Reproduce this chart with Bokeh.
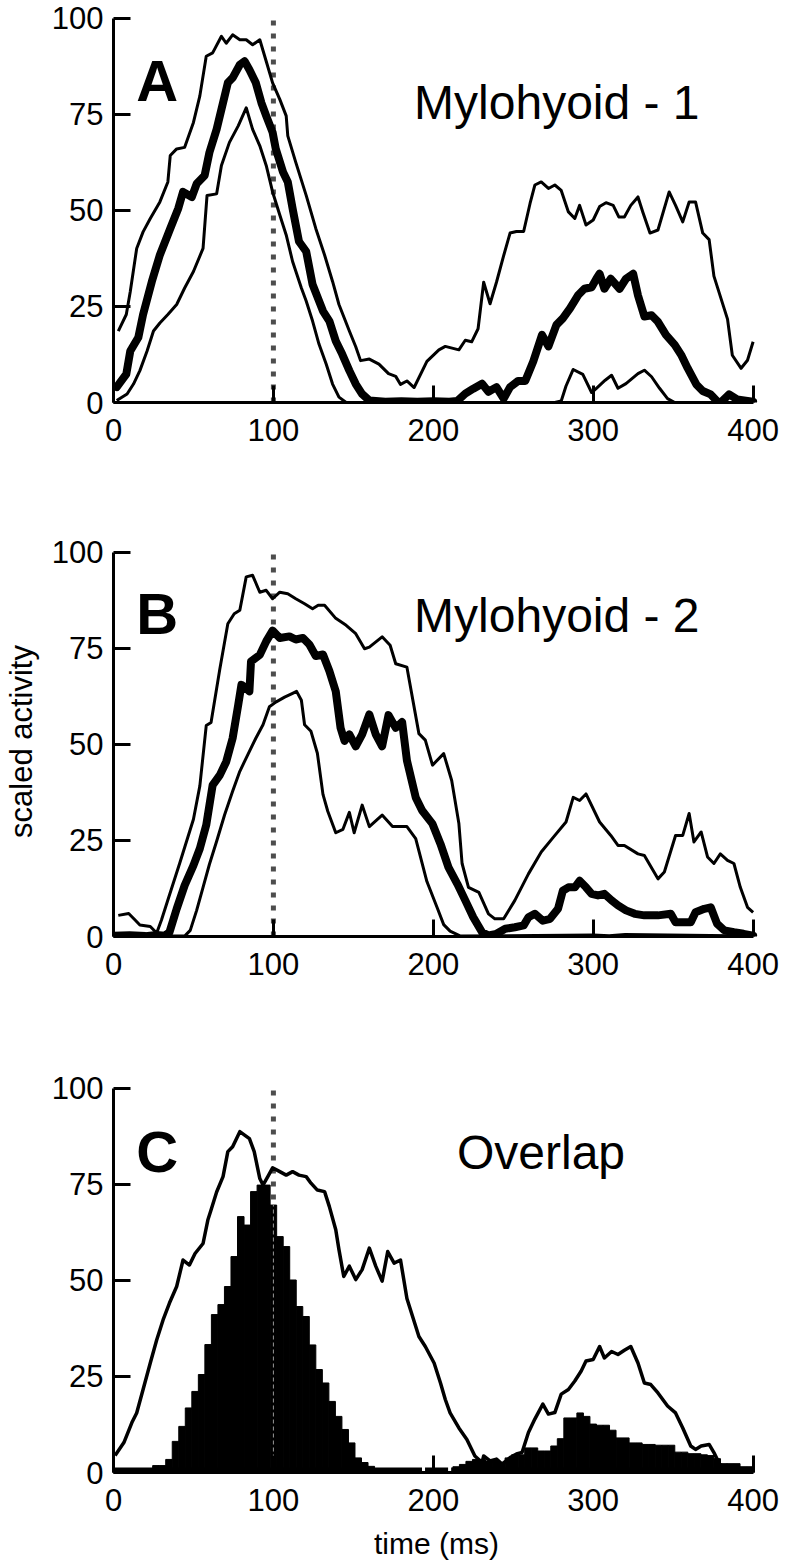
import math
from bokeh.plotting import figure
from bokeh.layouts import column
from bokeh.models import FixedTicker, Label, Range1d
from bokeh.embed import file_html
from bokeh.resources import INLINE

# ---------------- data (time in ms, scaled activity) ----------------
X_TICKS = [0, 100, 200, 300, 400]
Y_TICKS = [0, 25, 50, 75, 100]
MARKER_MS = 100        # dotted reference time
MARKER_TOP = 100.5

# Panel A : Mylohyoid - 1  (upper envelope, mean, lower envelope)
a_upper = [(3, 18.6), (8, 22.9), (10.5, 28.9), (14.5, 40.1), (18.5, 44.4), (23, 47.9), (29, 52.2), (34, 57.4),
           (35.5, 64.3), (39.5, 66), (44.5, 66.4), (50, 72.9), (54, 79.8), (58, 90.1), (62, 91), (67.5, 95.3),
           (70.5, 93.5), (74.5, 95.7), (79, 94.4), (83, 94.4), (87, 93.1), (91.5, 94.4), (95.5, 88.8), (99.5, 83.2),
           (104, 78.9), (108, 74.6), (109, 69.4), (114, 62.5), (120.5, 53.9), (126.5, 45.3), (132, 38.4), (137, 31.5),
           (141, 25.5), (147.5, 18.6), (151.5, 14.5), (154.5, 10.9), (160, 11.3), (166, 10), (172, 7.5), (176.5, 6.8),
           (179.5, 4.7), (183.5, 5.6), (188, 3.9), (196, 10.7), (203.5, 13.7), (207.5, 14.6), (216, 13.7), (220, 16.2),
           (224, 15.8), (228, 19.2), (231.5, 31.3), (235.5, 25.7), (239.5, 31.3), (244, 38.2), (248, 44.1), (252, 44.5),
           (256.5, 44.5), (260.5, 51.8), (263.5, 56.6), (267.5, 57.4), (272, 55.7), (276, 56.6), (280, 55.2),
           (284.5, 49.6), (288.5, 47.9), (291.5, 51.3), (295.5, 46.2), (300, 47.5), (304, 51), (308, 52), (312.5, 51.3),
           (316, 48.3), (319.5, 48.3), (323.5, 51.3), (328, 53.5), (331, 49.6), (335.5, 44.1), (340.5, 44.9),
           (347.5, 54.8), (351.5, 51.3), (356, 47), (360, 52.2), (364, 52.2), (368.5, 44.1), (372.5, 42.4),
           (375.5, 32.9), (384, 21.7), (387, 12.3), (392.5, 8.9), (396.5, 11), (400, 15.8)]
a_mean = [(2, 4), (8, 7.4), (10.5, 13.4), (15.5, 16.9), (18.5, 22.9), (24, 31.5), (29, 38.4), (35.5, 45.3),
          (40.5, 50.5), (43.5, 54.8), (49, 53.5), (52, 56.9), (57, 59.1), (60, 65.1), (64.5, 71.1), (68.5, 78),
          (71.5, 83.2), (74.5, 84.5), (79, 87.9), (82, 88.8), (85, 86.6), (89, 83.2), (92.5, 78), (95.5, 74.6),
          (99.5, 70.3), (101.5, 66), (106, 60), (109, 57.4), (112, 50.5), (116, 41.9), (120.5, 39.3), (124.5, 30.7),
          (131, 23.8), (135, 21.2), (139, 16), (143, 12.6), (147.5, 8.3), (151.5, 4.8), (155.5, 2.2), (160, 0.5),
          (170, 0.2), (180, 0.3), (190, 0.2), (200, 0.3), (210, 0.2), (215, 0.4), (220, 2.3), (225, 3.6),
          (230.5, 4.9), (234.5, 2.8), (239.5, 4), (244, 1), (248, 4), (253, 5.6), (257.5, 5.6), (262.5, 10.7),
          (268, 17.6), (272, 14.6), (277, 20.2), (281, 21.9), (285.5, 24.5), (290.5, 27.9), (294.5, 29.6), (299, 30),
          (302, 32.2), (304, 33.5), (307, 29.6), (311, 32.2), (316.5, 29.6), (320.5, 32.2), (325, 33.5), (328, 27.9),
          (332, 22.4), (336.5, 22.7), (340.5, 21), (345.5, 17.6), (351, 15), (355, 12.4), (359, 9), (364.5, 4.7),
          (368.5, 3), (373.5, 2.1), (379, -0.3), (385, 2.1), (390, 0.8), (396.5, 0.4), (400, 0.2)]
a_lower = [(2, 0.5), (8.5, 2.2), (12.5, 4.8), (16.5, 8.3), (21, 13.4), (25, 18.6), (29, 20.7), (34, 22.9),
           (39.5, 25.5), (44.5, 29.8), (50, 34.1), (56, 40.1), (58.5, 53.9), (64.5, 54.3), (67.5, 61.7), (72.5, 67.7),
           (78, 72), (83, 76.7), (87, 71.1), (91.5, 66.8), (95.5, 61.7), (99.5, 54.8), (104, 48.8), (108, 43.6),
           (112, 36.7), (117.5, 29.8), (120.5, 26.4), (124.5, 21.2), (128.5, 15.2), (133, 10), (137, 4.8), (141, 1.4),
           (145.5, 0), (200, 0), (250, 0), (276, 0), (280, 0.4), (283, 4.3), (287.5, 8.6), (293.5, 7.3), (299, 2.6),
           (302, 3.7), (307.5, 5.8), (311.5, 7.1), (315.5, 3.7), (320.5, 4.9), (328, 7.5), (332, 8.4), (336.5, 6.7),
           (341.5, 3.7), (346.5, 1), (351, 0), (400, 0)]

# Panel B : Mylohyoid - 2
b_upper = [(3, 5.5), (9.5, 6), (13.5, 4.3), (16.5, 3), (23, 2.6), (27, 0.9), (30, 4.3), (34, 9.5), (41.5, 19.2),
           (50, 30.5), (54, 39.2), (58, 54.9), (61, 55.7), (66.5, 69.6), (71.5, 81.4), (75.5, 84), (79, 84.9),
           (83, 93.6), (87, 94), (91.5, 89.6), (95.5, 90.1), (99.5, 87.9), (104, 89.6), (109, 89.2), (114, 87.9),
           (119.5, 86.6), (124.5, 85.3), (128, 86.2), (132, 86.2), (139, 82.8), (145.5, 81), (151.5, 78.8),
           (157, 74.9), (160, 75.3), (168, 78), (173, 75.8), (176.5, 71), (183.5, 70.1), (191, 52.8), (195, 51.1),
           (199.5, 44.6), (206.5, 47.6), (211.5, 40.6), (216, 29.4), (218, 19), (222, 12.8), (228.5, 11.5),
           (234.5, 5.9), (238.5, 4.6), (244, 4.6), (251, 9.4), (259.5, 16.3), (267.5, 22), (275, 25.8), (283, 29.8),
           (287.5, 36.2), (291.5, 35.4), (295.5, 37.1), (304, 29.8), (311, 26.3), (315.5, 23.7), (319.5, 23.7),
           (328, 21.5), (332, 21.1), (340.5, 15), (344.5, 16.8), (351.5, 26.3), (356, 26.3), (360, 32), (363, 24.6),
           (367.5, 27.2), (371.5, 20.7), (375.5, 19), (379.5, 21.5), (384, 19.8), (388, 19), (392, 12.8),
           (396.5, 7.6), (400, 6.3)]
b_mean = [(0, 0.2), (10, 0.3), (20, 0.1), (27, 0.4), (32, 0.2), (35, 1.1), (39.5, 7.2), (44.5, 13.3), (50, 18.5),
          (54, 22.9), (58, 29), (62, 39.4), (66.5, 42), (70.5, 45.5), (74.5, 51.6), (78, 60.3), (80, 65.5), (83, 64.6),
          (85, 63.8), (86, 71.6), (91.5, 73.3), (95.5, 76.8), (99.5, 79.6), (104, 77.7), (110, 78.1), (114, 77.3),
          (118.5, 77.7), (122.5, 76), (126.5, 73), (131, 73.4), (135, 69.1), (139, 63.8), (142, 54.3), (144.5, 50.9),
          (147.5, 52.6), (151.5, 49.5), (155.5, 52.6), (160, 57.8), (164, 52.6), (168, 49.5), (172, 57.6),
          (176.5, 54.3), (180.5, 55.8), (183.5, 45.8), (189, 36.2), (193, 32.8), (199.5, 29.3), (204.5, 24.1),
          (209.5, 18), (215, 13.7), (220, 9.4), (225, 5), (230.5, 1.1), (234.5, 0.3), (239.5, 0.7), (245, 2),
          (251, 2.4), (256.5, 2.9), (259.5, 5), (263.5, 5.9), (268.5, 4.1), (273, 4.6), (278, 7.2), (281, 11.9),
          (284.5, 12.8), (288.5, 12.8), (291.5, 14.5), (295.5, 12.8), (299, 11.1), (303, 10.7), (307, 11.1),
          (311.5, 9.4), (315.5, 8.1), (320.5, 6.8), (326, 5.9), (332, 5.5), (340.5, 5.5), (348.5, 5.9), (351.5, 3.7),
          (361, 3.7), (364, 6.3), (369.5, 7.2), (373.5, 7.6), (377.5, 3.3), (382, 1.6), (388, 1.1), (394, 0.7),
          (400, 0.2)]
b_lower = [(0, 0.1), (44.5, 0.1), (48, 1.6), (52, 6.8), (56, 12.8), (60, 18.8), (64.5, 24.8), (69.5, 31.7),
           (74.5, 37.8), (79, 43), (85, 48.2), (89, 51.6), (93.5, 55.1), (97.5, 59.8), (101.5, 61), (107, 62.3),
           (112, 63.3), (114.5, 63.8), (117.5, 61.5), (119.5, 55.1), (123.5, 53.4), (127.5, 47.7), (131, 37),
           (134, 32.6), (139, 27), (143.5, 27.9), (147.5, 32.3), (150.5, 27), (155.5, 34.2), (160, 28.6), (168, 31.6),
           (174.5, 28.6), (183.5, 28.6), (189, 25.5), (196, 14.3), (202.5, 7.4), (206.5, 3.1), (210.5, 1.4),
           (217, 0.1), (300, 0.4), (310, 0.2), (320, 0.5), (400, 0.1)]

# Panel C : Overlap (outer line and overlap histogram)
c_line = [(1, 4.4), (6.5, 7.8), (11.5, 13), (14.5, 15.5), (18.5, 21.6), (23, 28.5), (27, 34.5), (31, 39.7),
          (35, 44.1), (39.5, 48.4), (43.5, 55.3), (47.5, 54), (51, 57), (56, 59.6), (59, 65.7), (61, 68.3),
          (64.5, 73), (68.5, 77), (71.5, 83.5), (74.5, 84.8), (79, 88.7), (85, 86.9), (88, 83.5), (91.5, 76.5),
          (93.5, 74.8), (96.5, 77), (99.5, 79.3), (104, 78.3), (108, 77.4), (112, 78.3), (116, 77.4), (120.5, 77),
          (123.5, 75.3), (127.5, 73.5), (132, 73.1), (135, 69.2), (139, 63.2), (141, 58), (144, 51), (147.5, 53.7),
          (151.5, 50.2), (155.5, 52.8), (160, 58.4), (164, 53.7), (168, 49.8), (171.5, 57.5), (175.5, 54.5),
          (179.5, 55.3), (183.5, 45.3), (191, 35.4), (195, 32.8), (200.5, 28.5), (204.5, 23.3), (207.5, 19),
          (210.5, 15.5), (216, 11.6), (221, 8.6), (226, 4.3), (230.5, 2.6), (231.5, 4.3), (235.5, 3), (239.5, 3.5),
          (243, 2.2), (248, 3.9), (252, 4.8), (255.5, 5.2), (259.5, 10.4), (263.5, 13.9), (268.5, 17.8), (272, 15.2),
          (276, 15.6), (280, 20.4), (284.5, 21.6), (288.5, 23.8), (292.5, 26.4), (295.5, 29), (300, 29.4),
          (304, 32.8), (307, 29.8), (311.5, 31.5), (315.5, 30.7), (319.5, 31.8), (323.5, 32.8), (328, 28.5),
          (332, 23.3), (336, 22.9), (340.5, 20.7), (346.5, 17.3), (351.5, 15.5), (356, 11.6), (361, 6.9), (364, 6),
          (367.5, 6.9), (372.5, 7.3), (375.5, 5.2), (379, 2.2), (382, 1.3), (390, 1), (400, 0.5)]
NAN = float("nan")
HIST_BINS = 98            # equal bins spanning 0-400 ms
overlap_hist = [0.5, 0.5, 0.5, 0.5, 0.5, 0.8, 1.8, 1.8,
                3.4, 8.1, 12.0, 16.8, 21.1, 25.5, 33.3, 41.1, 43.7, 48.4, 56.2, 66.6, 64.4, 73.1, 74.8, 74.8,
                69.6, 61.4, 58.8, 50.1, 43.2, 40.6, 33.2, 26.8, 23.3, 18.5, 14.6, 11.2, 7.7, 3.8, 2.6, 1.6,
                0.8, 0.6, 0.5, 0.5, 0.5, 0.5, 0.5, NAN, 0.5, 0.5, 0.5, NAN,
                1.5, 2.1, 2.9, 3.4, 3.4, 3.0, 3.0, 2.6, 3.8, 4.6, 4.6, 6.4, 6.4, 5.6, 5.6, 6.9, 8.8,
                14.2, 14.2, 15.5, 14.6, 12.6, 12.3, 12.3, 11.0, 9.0, 9.0, 7.7, 7.7, 7.3, 7.3, 7.1, 7.1, 7.1,
                5.3, 5.3, 4.9, 4.9, 4.6, 4.4, 3.6, 2.3, 2.3, 2.3, 1.5, 1.5]

# ---------------- styling ----------------
SANS = "Liberation Sans"
DOT_COLOR = "#4d4d4d"
W = 783


def unzip(pairs):
    return [q[0] for q in pairs], [q[1] for q in pairs]


def panel(height, top, bottom):
    p = figure(width=W, height=height, output_backend="svg", toolbar_location=None,
               x_range=Range1d(0, 404), y_range=Range1d(0, 101.5),
               min_border_left=110, min_border_right=24, min_border_top=top, min_border_bottom=bottom,
               background_fill_color="white", border_fill_color="white", outline_line_color=None)
    p.grid.visible = False
    for ax in (p.xaxis[0], p.yaxis[0]):
        ax.axis_line_width = 3
        ax.axis_line_color = "black"
        ax.major_tick_line_width = 3
        ax.major_tick_line_color = "black"
        ax.major_tick_in = 17
        ax.major_tick_out = 0
        ax.minor_tick_line_color = None
        ax.major_label_text_font = SANS
        ax.major_label_text_font_size = "31px"
        ax.major_label_text_color = "black"
        ax.axis_label_text_font = SANS
        ax.axis_label_text_font_size = "30px"
        ax.axis_label_text_font_style = "normal"
        ax.axis_label_text_color = "black"
    p.xaxis.ticker = FixedTicker(ticks=X_TICKS)
    p.yaxis.ticker = FixedTicker(ticks=Y_TICKS)
    p.xaxis.bounds = (X_TICKS[0], X_TICKS[-1])
    p.yaxis.bounds = (Y_TICKS[0], Y_TICKS[-1])
    p.xaxis.major_label_standoff = 16
    p.yaxis.major_label_standoff = 10
    return p


def marker(p, top=MARKER_TOP):
    p.line([MARKER_MS, MARKER_MS], [0, top], line_color=DOT_COLOR, line_width=5, line_dash="5 8")


def letter(p, txt, y):
    p.add_layout(Label(x=14.3, y=y, text=txt, text_font=SANS, text_font_style="bold",
                       text_font_size="58px", text_align="left", text_baseline="alphabetic",
                       text_color="black"))


def title(p, txt, x, y):
    p.add_layout(Label(x=x, y=y, text=txt, text_font=SANS, text_font_size="48px",
                       text_align="left", text_baseline="alphabetic", text_color="black"))


def triplet(p, upper, mean, lower):
    for series in (upper, lower):
        t, v = unzip(series)
        p.line(t, v, line_color="black", line_width=3, line_join="round")
    t, v = unzip(mean)
    p.line(t, v, line_color="black", line_width=8, line_join="round", line_cap="round")


# ---- Panel A ----
pa = panel(516, 12, 114)
marker(pa)
triplet(pa, a_upper, a_mean, a_lower)
letter(pa, "A", 83.8)
title(pa, "Mylohyoid - 1", 188, 78.2)

# ---- Panel B ----
pb = panel(536, 30, 116)
marker(pb)
triplet(pb, b_upper, b_mean, b_lower)
letter(pb, "B", 84.1)
title(pb, "Mylohyoid - 2", 188, 83.5)
pb.yaxis.axis_label = "scaled activity"
pb.yaxis.axis_label_text_font_size = "31px"
pb.yaxis.axis_label_standoff = 10

# ---- Panel C ----
pc = panel(510, 30, 89)
marker(pc)
bw = (X_TICKS[-1] - X_TICKS[0]) / HIST_BINS
lefts = [X_TICKS[0] + i * bw for i in range(HIST_BINS)]
rights = [l + bw for l in lefts]
centers = [l + bw / 2 for l in lefts]
pc.quad(left=lefts, right=rights, bottom=[0] * HIST_BINS, top=overlap_hist,
        fill_color="black", line_color="black", line_width=1)
band = [NAN if math.isnan(h) else 0.0 for h in overlap_hist]
pc.line(centers, band, line_color="black", line_width=10, line_cap="square")
inside_top = overlap_hist[int((MARKER_MS - X_TICKS[0]) // bw)]
pc.line([MARKER_MS, MARKER_MS], [0, inside_top], line_color="#9a9a9a", line_width=1, line_dash="4 3")
t, v = unzip(c_line)
pc.line(t, v, line_color="black", line_width=3.5, line_join="round")
letter(pc, "C", 83.6)
title(pc, "Overlap", 214.8, 83.4)
pc.xaxis.axis_label = "time (ms)"
pc.xaxis.axis_label_standoff = 13

layout = column(pa, pb, pc, spacing=0)
open("out.html", "w").write(file_html(layout, INLINE))
